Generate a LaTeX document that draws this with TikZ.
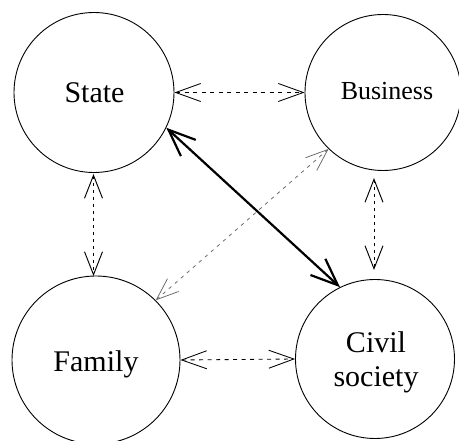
\documentclass[tikz,border=0pt]{standalone}
\usepackage{fontspec}
\setmainfont{Liberation Serif}
\usetikzlibrary{arrows.meta,calc}
\begin{document}
\begin{tikzpicture}[x=1pt,y=-1pt,
  actor/.style={circle,draw,line width=0.9pt,inner sep=0pt},
  lbl/.style={anchor=base,inner sep=0pt,align=center,font=\fontsize{30}{34}\selectfont},
  dashlink/.style={line width=0.85pt,dash pattern=on 4pt off 4.5pt,
    {Straight Barb[length=25pt,width=18pt]}-{Straight Barb[length=25pt,width=18pt]}},
  dotlink/.style={line width=0.95pt,dash pattern=on 3pt off 4pt,
    {Straight Barb[length=23pt,width=18pt]}-{Straight Barb[length=23pt,width=18pt]}},
  greylink/.style={line width=0.75pt,draw=black!60,dash pattern=on 3.5pt off 4.5pt,
    {Straight Barb[length=22pt,width=17pt]}-{Straight Barb[length=22pt,width=17pt]}},
  strong/.style={line width=2.2pt,
    {Straight Barb[length=27pt,width=22pt]}-{Straight Barb[length=27pt,width=22pt]}}
]
\useasboundingbox (0,0) rectangle (459,441);
\node[actor,minimum size=160pt] (S) at (94,92.5) {};
\node[actor,minimum size=156pt] (B) at (383,92.5) {};
\node[actor,minimum size=168pt] (F) at (96,360) {};
\node[actor,minimum size=159pt] (C) at (375,359) {};
\node[lbl] (St) at (94.5,103) {State};
\node[lbl,font=\fontsize{26}{30}\selectfont] (Bt) at (387,100) {Business};
\node[lbl] (Ft) at (96,372) {Family};
\node[lbl] (Ct) at (376,387) {Civil\\society};
\coordinate (Sb) at (93.5,174);
\coordinate (Ft0) at (93.5,276);
\draw[dashlink] (S.east) -- (B.west);
\draw[dashlink] (F.east) -- (C.west);
\draw[dotlink] (Sb) -- (Ft0);
\coordinate (Bb) at (374,170);
\coordinate (Ctop) at (374,280);
\draw[dotlink,shorten <=8pt,shorten >=10pt] (Bb) -- (Ctop);
\draw[greylink] (F.45.5) -- (B.226.5);
\draw[strong] (S.-26.6) -- (C.116);
\end{tikzpicture}
\end{document}
